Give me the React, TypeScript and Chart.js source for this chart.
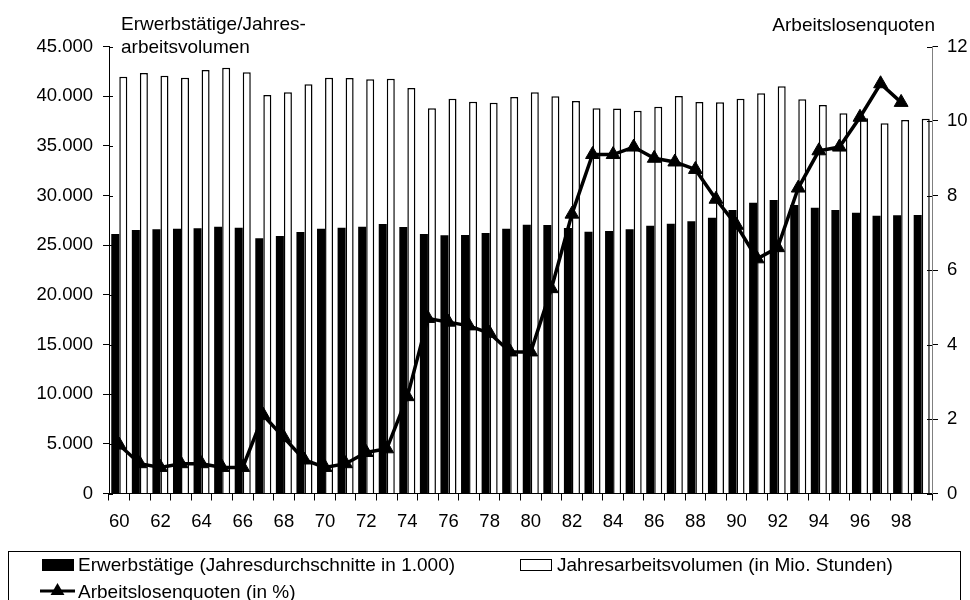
import React, { useEffect, useRef } from "react";
import { Chart, registerables } from "chart.js";

Chart.register(...registerables);

const years = [
  "60","61","62","63","64","65","66","67","68","69",
  "70","71","72","73","74","75","76","77","78","79",
  "80","81","82","83","84","85","86","87","88","89",
  "90","91","92","93","94","95","96","97","98","99",
];

// Erwerbstätige (Jahresdurchschnitte in 1.000)
const erwerbstaetige = [
  26120, 26530, 26600, 26660, 26700, 26860, 26760, 25690, 25920, 26330,
  26660, 26760, 26860, 27130, 26830, 26120, 25990, 26020, 26220, 26660,
  27060, 27030, 26730, 26360, 26430, 26600, 26960, 27160, 27400, 27760,
  28540, 29270, 29550, 29050, 28770, 28540, 28270, 27970, 28010, 28040,
];

// Jahresarbeitsvolumen (in Mio. Stunden)
const arbeitsvolumen = [
  41960, 42330, 42060, 41860, 42630, 42870, 42400, 40120, 40390, 41190,
  41860, 41830, 41700, 41760, 40820, 38780, 39740, 39440, 39340, 39920,
  40390, 39990, 39510, 38780, 38760, 38540, 38940, 40020, 39410, 39380,
  39740, 40290, 40990, 39680, 39110, 38270, 37770, 37270, 37600, 37730,
];

// Arbeitslosenquoten (in %)
const quoten = [
  1.3, 0.8, 0.7, 0.8, 0.8, 0.7, 0.7, 2.1, 1.5, 0.9,
  0.7, 0.8, 1.1, 1.2, 2.6, 4.7, 4.6, 4.5, 4.3, 3.8,
  3.8, 5.5, 7.5, 9.1, 9.1, 9.3, 9.0, 8.9, 8.7, 7.9,
  7.2, 6.3, 6.6, 8.2, 9.2, 9.3, 10.1, 11.0, 10.5, null,
];

const leftTitle1 = "Erwerbstätige/Jahres-";
const leftTitle2 = "arbeitsvolumen";
const rightTitle = "Arbeitslosenquoten";
const legendLabels = [
  "Erwerbstätige (Jahresdurchschnitte in 1.000)",
  "Jahresarbeitsvolumen (in Mio. Stunden)",
  "Arbeitslosenquoten (in %)",
];

const FONT = "'Liberation Sans', Arial, Helvetica, sans-serif";

function fmtDE(v: number) {
  return String(v).replace(/\B(?=(\d{3})+(?!\d))/g, ".");
}

const extrasPlugin = {
  id: "extras",
  afterDraw(chart: any) {
    const ctx = chart.ctx;
    const yL = chart.scales.y;
    const yR = chart.scales.y1;
    ctx.save();
    // inner tick stubs (crossing ticks)
    ctx.strokeStyle = "#000";
    ctx.lineWidth = 1;
    yL.ticks.forEach((t: any) => {
      const py = Math.round(yL.getPixelForValue(t.value)) + 0.5;
      ctx.beginPath();
      ctx.moveTo(yL.right, py);
      ctx.lineTo(yL.right + 4, py);
      ctx.stroke();
    });
    yR.ticks.forEach((t: any) => {
      const py = Math.round(yR.getPixelForValue(t.value)) + 0.5;
      ctx.beginPath();
      ctx.moveTo(yR.left - 5, py);
      ctx.lineTo(yR.left, py);
      ctx.stroke();
    });

    // axis titles
    ctx.fillStyle = "#000";
    ctx.font = `19px ${FONT}`;
    ctx.textBaseline = "alphabetic";
    ctx.textAlign = "left";
    ctx.fillText(leftTitle1, 121, 30);
    ctx.fillText(leftTitle2, 121, 53);
    ctx.textAlign = "right";
    ctx.fillText(rightTitle, 935, 31);

    // legend box
    ctx.strokeStyle = "#000";
    ctx.lineWidth = 1;
    ctx.strokeRect(8.5, 551.5, 952, 80);

    ctx.font = `19px ${FONT}`;
    ctx.textAlign = "left";
    // item 1: black rect
    ctx.fillStyle = "#000";
    ctx.fillRect(42, 559, 32, 12);
    ctx.fillText(legendLabels[0], 78, 571);
    // item 2: white rect
    ctx.fillStyle = "#fff";
    ctx.fillRect(520, 559, 32, 12);
    ctx.strokeStyle = "#000";
    ctx.strokeRect(520.5, 559.5, 31, 11);
    ctx.fillStyle = "#000";
    ctx.fillText(legendLabels[1], 557, 571);
    // item 3: line with triangle
    ctx.lineWidth = 3;
    ctx.beginPath();
    ctx.moveTo(40, 591);
    ctx.lineTo(75, 591);
    ctx.stroke();
    const cx = 57.5, cy = 591, r = 8;
    ctx.beginPath();
    ctx.moveTo(cx, cy - r);
    ctx.lineTo(cx + r * 0.866, cy + r / 2);
    ctx.lineTo(cx - r * 0.866, cy + r / 2);
    ctx.closePath();
    ctx.fill();
    ctx.fillText(legendLabels[2], 78, 598);
    ctx.restore();
  },
};

export default function App() {
  const ref = useRef<HTMLCanvasElement | null>(null);

  useEffect(() => {
    if (!ref.current) return;
    const chart = new Chart(ref.current, {
      type: "bar",
      data: {
        labels: years,
        datasets: [
          {
            type: "line",
            label: legendLabels[2],
            data: quoten as any,
            yAxisID: "y1",
            order: 0,
            borderColor: "#000",
            backgroundColor: "#000",
            borderWidth: 3.5,
            pointStyle: "triangle",
            pointRadius: 8,
            pointBackgroundColor: "#000",
            pointBorderColor: "#000",
            pointBorderWidth: 1,
            tension: 0,
            spanGaps: false,
          } as any,
          {
            type: "bar",
            label: legendLabels[0],
            data: erwerbstaetige,
            yAxisID: "y",
            order: 1,
            backgroundColor: "#000",
            borderColor: "#000",
            borderWidth: 0,
            categoryPercentage: 0.78,
            barPercentage: 1.0,
          },
          {
            type: "bar",
            label: legendLabels[1],
            data: arbeitsvolumen,
            yAxisID: "y",
            order: 2,
            backgroundColor: "#fff",
            borderColor: "#000",
            borderWidth: 1.5,
            categoryPercentage: 0.78,
            barPercentage: 1.0,
          },
        ],
      },
      options: {
        responsive: false,
        animation: false,
        devicePixelRatio: 1,
        layout: { padding: { top: 46.5, bottom: 66.5, left: 0, right: 0 } },
        plugins: {
          legend: { display: false },
          tooltip: { enabled: false },
          title: { display: false },
        },
        scales: {
          x: {
            type: "category",
            offset: true,
            grid: {
              offset: true,
              drawOnChartArea: false,
              drawTicks: true,
              tickLength: 7,
              color: "#000",
              lineWidth: 1,
            },
            border: { display: true, color: "#000", width: 1 },
            ticks: {
              autoSkip: false,
              maxRotation: 0,
              minRotation: 0,
              padding: 10,
              color: "#000",
              font: { family: FONT, size: 18.5 },
              callback: (_v: any, i: number) => (i % 2 === 0 ? years[i] : ""),
            },
            afterFit: (s: any) => {
              s.height = 40;
            },
          },
          y: {
            position: "left",
            min: 0,
            max: 45000,
            grid: {
              drawOnChartArea: false,
              drawTicks: true,
              tickLength: 6,
              color: "#000",
              lineWidth: 1,
            },
            border: { display: true, color: "#000", width: 1 },
            ticks: {
              stepSize: 5000,
              padding: 10,
              color: "#000",
              font: { family: FONT, size: 18.5 },
              callback: (v: any) => fmtDE(Number(v)),
            },
            afterFit: (s: any) => {
              s.width = 109;
            },
          },
          y1: {
            position: "right",
            min: 0,
            max: 12,
            grid: {
              drawOnChartArea: false,
              drawTicks: true,
              tickLength: 6,
              color: "#000",
              lineWidth: 1,
            },
            border: { display: true, color: "#808080", width: 1 },
            ticks: {
              stepSize: 2,
              padding: 9,
              color: "#000",
              font: { family: FONT, size: 18.5 },
            },
            afterFit: (s: any) => {
              s.width = 38;
            },
          },
        },
      },
      plugins: [extrasPlugin],
    });
    return () => chart.destroy();
  }, []);

  return (
    <div style={{ position: "absolute", left: 0, top: 0, width: 970, height: 600, background: "#fff" }}>
      <canvas ref={ref} width={970} height={600} style={{ display: "block", width: 970, height: 600 }} />
    </div>
  );
}
